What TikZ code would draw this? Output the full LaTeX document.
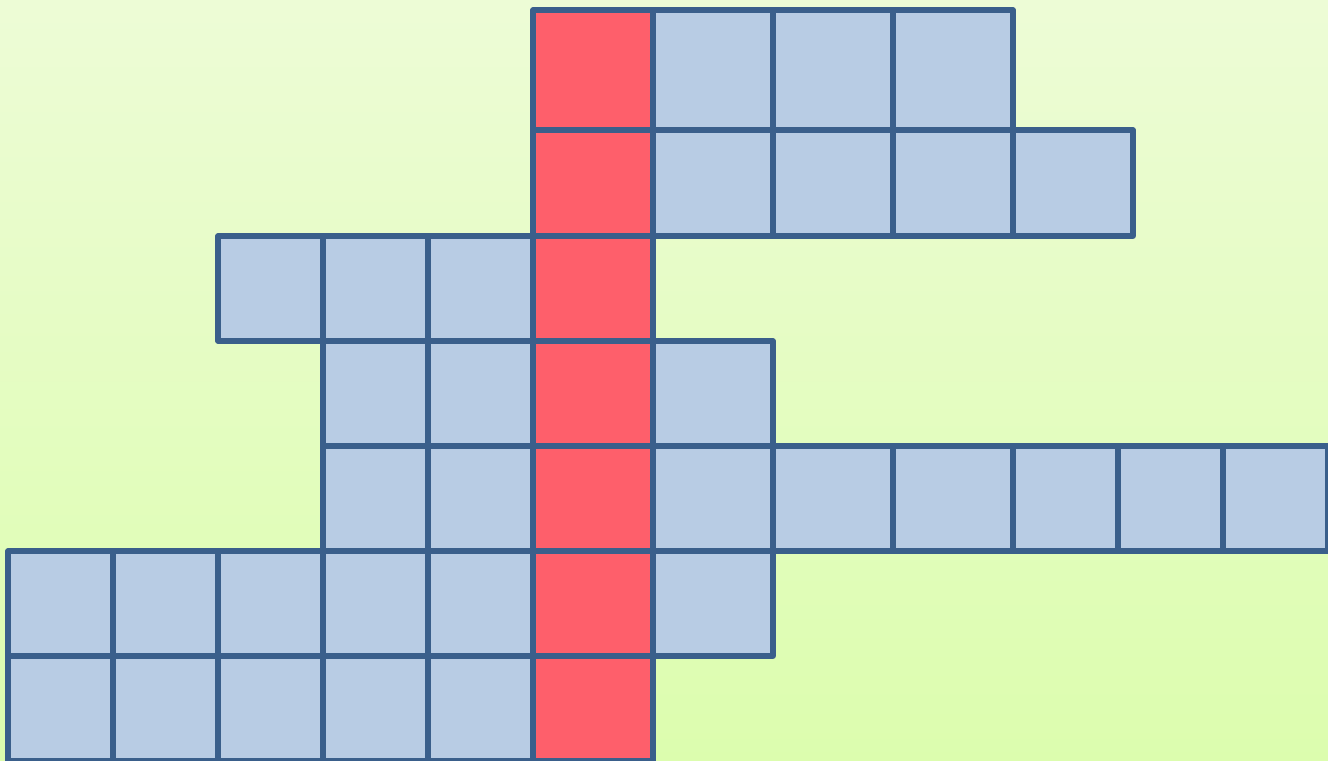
\documentclass[tikz,border=0pt]{standalone}
\definecolor{bgtop}{RGB}{237,252,214}
\definecolor{bgbottom}{RGB}{220,253,174}
\definecolor{gridline}{RGB}{58,95,139}
\definecolor{cellblue}{RGB}{184,204,228}
\definecolor{cellred}{RGB}{254,95,107}
\usepackage{tikz}

\begin{document}
\begin{tikzpicture}[x=0.1mm,y=0.1mm,
    cell/.style={draw=gridline,line width=1.45pt,line join=round,fill=cellblue},
    hcell/.style={cell,fill=cellred}]
        \useasboundingbox (0,0) rectangle (1328,761);
        \clip (0,0) rectangle (1328,761);
        \shade[top color=bgtop,bottom color=bgbottom] (0,0) rectangle (1328,761);
        % across words
        \foreach \x/\y/\w/\h in {653/631/120/120, 773/631/120/120, 893/631/120/120,
            653/525/120/106, 773/525/120/106, 893/525/120/106, 1013/525/120/106,
            218/420/105/105, 323/420/105/105, 428/420/105/105,
            323/315/105/105, 428/315/105/105, 653/315/120/105,
            323/210/105/105, 428/210/105/105, 653/210/120/105, 773/210/120/105,
            893/210/120/105, 1013/210/105/105, 1118/210/105/105, 1223/210/105/105,
            8/105/105/105, 113/105/105/105, 218/105/105/105, 323/105/105/105,
            428/105/105/105, 653/105/120/105,
            8/0/105/105, 113/0/105/105, 218/0/105/105, 323/0/105/105, 428/0/105/105}
          \draw[cell] (\x,\y) rectangle ++(\w,\h);
        % keyword column
        \foreach \y/\h in {631/120, 525/106, 420/105, 315/105, 210/105, 105/105, 0/105}
          \draw[hcell] (533,\y) rectangle ++(120,\h);
      \end{tikzpicture}
\end{document}
